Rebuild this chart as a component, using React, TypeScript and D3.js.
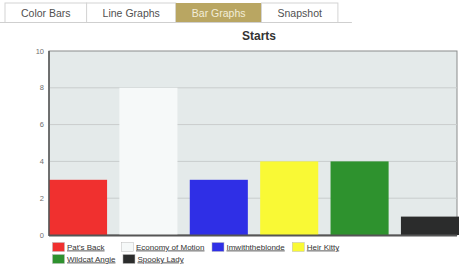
import React, { useEffect, useRef } from 'react';
import * as d3 from 'd3';

// chart data
const horses = ["Pat's Back", 'Economy of Motion', 'Imwiththeblonde', 'Heir Kitty', 'Wildcat Angie', 'Spooky Lady'];
const starts = [3, 8, 3, 4, 4, 1];
const barColors = ['#f0302f', '#f6f9f9', '#2f2fe6', '#f9f935', '#2e922e', '#2b2c2c'];
const yTicks = [0, 2, 4, 6, 8, 10];
const tabs = ['Color Bars', 'Line Graphs', 'Bar Graphs', 'Snapshot'];
const activeTab = 'Bar Graphs';

const W = 459;
const H = 264;
const plot = { left: 49, right: 457, top: 51, bottom: 235 };

const App = () => {
  const ref = useRef<SVGSVGElement | null>(null);

  useEffect(() => {
    const svg = d3.select(ref.current);
    svg.selectAll('*').remove();
    const font = 'Arial, "Liberation Sans", sans-serif';

    // --- tabs ---
    const tabG = svg.append('g').style('font-family', font);
    const tabPad = 16;
    let tx = 5;
    tabs.forEach((t) => {
      const txt = tabG.append('text').attr('y', 17).style('font-size', '10.5px').text(t);
      const tw = (txt.node() as SVGTextElement).getComputedTextLength();
      const w = Math.max(tw + tabPad * 2, 76);
      const active = t === activeTab;
      tabG.insert('rect', 'text')
        .attr('x', tx).attr('y', 3).attr('width', w).attr('height', 19.5)
        .attr('fill', active ? '#b9a662' : '#fff')
        .attr('stroke', active ? 'none' : '#d4d4d4');
      txt.attr('x', tx + w / 2).attr('text-anchor', 'middle')
        .attr('fill', active ? '#f2edd8' : '#505050');
      tx += w;
    });
    tabG.append('line').attr('x1', 0).attr('x2', tx + 14).attr('y1', 22.5).attr('y2', 22.5)
      .attr('stroke', '#cfcfcf');

    // --- title ---
    svg.append('text').attr('x', 259).attr('y', 40).attr('text-anchor', 'middle')
      .style('font-family', font).style('font-size', '12px').style('font-weight', 'bold')
      .attr('fill', '#333').text('Starts');

    // --- scales ---
    const x = d3.scaleBand<string>().domain(horses).range([plot.left, plot.right + 2])
      .paddingInner(0.175).paddingOuter(0);
    const y = d3.scaleLinear().domain([0, 10]).range([plot.bottom, plot.top]);

    svg.append('rect').attr('x', plot.left).attr('y', plot.top)
      .attr('width', plot.right - plot.left).attr('height', plot.bottom - plot.top)
      .attr('fill', '#e4eaea').attr('stroke', '#8a8c8c');

    svg.append('g').selectAll('line').data(yTicks.filter(d => d > 0 && d < 10)).enter()
      .append('line')
      .attr('x1', plot.left).attr('x2', plot.right)
      .attr('y1', d => y(d)).attr('y2', d => y(d))
      .attr('stroke', '#c9cdcd');

    svg.append('g').selectAll('text').data(yTicks).enter().append('text')
      .attr('x', 44).attr('y', d => y(d)).attr('dy', '0.35em').attr('text-anchor', 'end')
      .style('font-family', font).style('font-size', '7.5px').attr('fill', '#707070')
      .text(d => d);

    svg.append('g').selectAll('rect').data(starts).enter().append('rect')
      .attr('x', (d, i) => x(horses[i]) as number)
      .attr('width', x.bandwidth())
      .attr('y', d => y(d))
      .attr('height', d => y(0) - y(d))
      .attr('fill', (d, i) => barColors[i]);

    // axes lines
    svg.append('line').attr('x1', plot.left).attr('x2', plot.left).attr('y1', plot.top).attr('y2', plot.bottom + 1)
      .attr('stroke', '#555').attr('stroke-width', 1.5);
    svg.append('line').attr('x1', plot.left).attr('x2', plot.right).attr('y1', plot.bottom + 0.5).attr('y2', plot.bottom + 0.5)
      .attr('stroke', '#555').attr('stroke-width', 2);

    // --- legend (flow layout) ---
    const legend = svg.append('g').style('font-family', font);
    const maxRight = 400;
    const minItem = 69;
    let lx = 52;
    let ly = 242;
    horses.forEach((h, i) => {
      const g = legend.append('g');
      const txt = g.append('text').attr('x', 15).attr('y', 7.5)
        .style('font-size', '8px').attr('fill', '#333')
        .style('text-decoration', 'underline').text(h);
      const tw = (txt.node() as SVGTextElement).getComputedTextLength();
      const w = Math.max(minItem, 15 + tw + 7);
      if (lx + w > maxRight && lx > 52) {
        lx = 52;
        ly += 12;
      }
      g.insert('rect', 'text').attr('x', 0.5).attr('y', 0.5).attr('width', 12).attr('height', 9)
        .attr('fill', barColors[i]).attr('stroke', '#bbb').attr('stroke-width', 0.5);
      g.attr('transform', `translate(${lx},${ly})`);
      lx += w;
    });
  }, []);

  return (
    <div style={{ position: 'fixed', left: 0, top: 0, background: '#fff' }}>
      <svg ref={ref} width={W} height={H} style={{ display: 'block' }} />
    </div>
  );
};

export default App;
